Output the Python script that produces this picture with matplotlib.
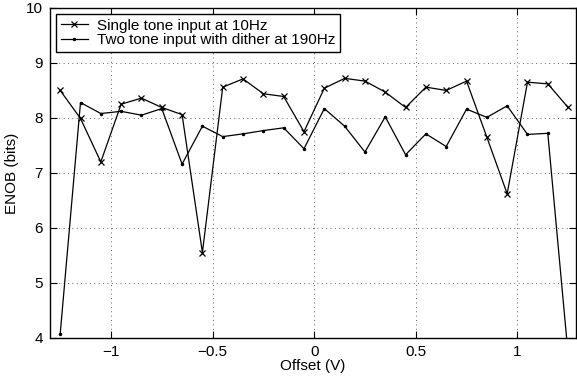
import matplotlib
matplotlib.use('Agg')
import matplotlib.pyplot as plt
import numpy as np

plt.rcParams['font.family'] = ['Liberation Sans', 'DejaVu Sans']

# offset points (V)
offset = [-1.25, -1.15, -1.05, -0.95, -0.85, -0.75, -0.65, -0.55, -0.45, -0.35,
          -0.25, -0.15, -0.05, 0.05, 0.15, 0.25, 0.35, 0.45, 0.55, 0.65,
          0.75, 0.85, 0.95, 1.05, 1.15, 1.25]

# ENOB single tone at 10Hz
enob_single = [8.50, 7.99, 7.20, 8.25, 8.36, 8.19, 8.06, 5.55, 8.56, 8.71,
               8.44, 8.39, 7.75, 8.54, 8.72, 8.67, 8.47, 8.19, 8.56, 8.50,
               8.67, 7.65, 6.62, 8.65, 8.62, 8.19]

# ENOB two tone with dither at 190Hz
enob_dither = [4.07, 8.28, 8.08, 8.12, 8.05, 8.17, 7.16, 7.85, 7.66, 7.71,
               7.77, 7.82, 7.44, 8.17, 7.85, 7.38, 8.02, 7.33, 7.71, 7.48,
               8.16, 8.01, 8.22, 7.70, 7.72, 3.70]

xticks = [-1, -0.5, 0, 0.5, 1]
xticklabels = ['\u22121', '\u22120.5', '0', '0.5', '1']
yticks = [4, 5, 6, 7, 8, 9, 10]

fig = plt.figure(figsize=(5.77, 3.80), dpi=100)
ax = fig.add_axes([0.0867, 0.111, 0.912, 0.868])

ax.plot(offset, enob_single, color='black', lw=0.9, marker='x', ms=4.5,
        mew=0.9, label='Single tone input at 10Hz')
ax.plot(offset, enob_dither, color='black', lw=0.9, marker='.', ms=3,
        label='Two tone input with dither at 190Hz')

ax.set_xlim(-1.3, 1.29)
ax.set_ylim(4, 10)
ax.set_xticks(xticks)
ax.set_xticklabels(xticklabels)
ax.set_yticks(yticks)
ax.tick_params(direction='in', top=True, right=True, labelsize=11, length=5,
               width=0.8, pad=5)
ax.grid(True, linestyle=(0, (1, 3.5)), color='#666666', linewidth=0.7)
for s in ax.spines.values():
    s.set_linewidth(1.0)

ax.set_xlabel('Offset (V)', fontsize=11, labelpad=0)
ax.set_ylabel('ENOB (bits)', fontsize=11, labelpad=5)

leg = ax.legend(loc='upper left', fontsize=11, fancybox=False, framealpha=1,
                edgecolor='black', handlelength=1.8, borderpad=0.3,
                labelspacing=0.05, borderaxespad=0.4, handletextpad=0.6)
leg.get_frame().set_linewidth(1.0)

fig.savefig('out.png', dpi=100)
